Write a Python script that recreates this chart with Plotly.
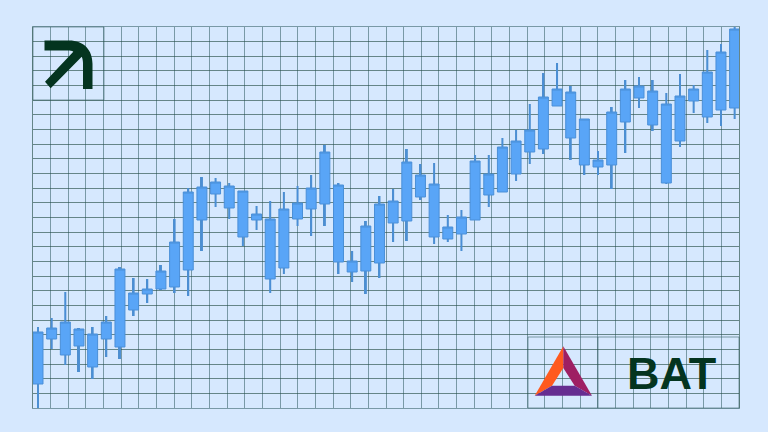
"""
BAT candlestick graphic on a square grid, with arrow and BAT logos
"""

import plotly.graph_objects as go

# candle values, left to right (no price scale in the picture, so axis units)
wick_high = [81, 90, 116, 80, 81, 92, 141, 130, 129, 143, 189, 220, 231, 230, 225, 217, 202, 207, 216, 222, 233, 263, 225, 157, 187, 212, 219, 259, 244, 245, 193, 198, 253, 253, 270, 278, 304, 335, 345, 322, 289, 257, 301, 328, 331, 328, 315, 334, 323, 358, 364, 381]
wick_low = [0, 59, 43, 36, 29, 51, 49, 92, 105, 118, 115, 112, 157, 201, 189, 162, 178, 115, 134, 182, 172, 182, 134, 126, 114, 130, 166, 167, 208, 164, 166, 157, 188, 201, 216, 227, 244, 254, 302, 248, 233, 233, 219, 255, 300, 277, 224, 261, 295, 285, 282, 289]
body_top = [76, 80, 86, 79, 74, 86, 139, 115, 119, 137, 166, 216, 221, 226, 222, 217, 194, 189, 199, 205, 220, 256, 223, 147, 182, 204, 207, 246, 233, 224, 181, 191, 247, 234, 261, 267, 278, 311, 319, 316, 289, 248, 296, 319, 322, 317, 304, 312, 319, 336, 356, 379]
body_bottom = [24, 69, 53, 62, 41, 69, 61, 98, 114, 119, 121, 138, 188, 214, 200, 171, 188, 129, 140, 189, 199, 204, 146, 136, 137, 145, 185, 187, 211, 171, 169, 174, 188, 213, 216, 234, 256, 259, 302, 270, 243, 241, 243, 286, 310, 283, 225, 267, 307, 291, 298, 300]
candle_idx = list(range(len(wick_high)))

BG = "#d6e8fe"
GRID_H = "rgba(40,80,72,0.65)"
GRID_V = "rgba(65,105,112,0.62)"
DARK_GREEN = "#04341f"
BODY = "#59a5f7"
EDGE = "#4a8fd8"
WICK = "#4f8fce"

# plot area in window pixels
LEFT, TOP, RIGHT, BOTTOM = 33, 27, 739, 408
W, H = RIGHT - LEFT, BOTTOM - TOP


def px_x(x):  # window pixel to paper coordinate
    return (x - LEFT) / W


def px_y(y):
    return (BOTTOM - y) / H


def poly(points):  # svg path in paper coordinates
    return "M" + " L".join(f"{px_x(x):.5f},{px_y(y):.5f}" for x, y in points) + " Z"


def cell(x0, y0, x1, y1):  # background panel hiding the grid under a logo
    return dict(
        type="rect", xref="paper", yref="paper", layer="between",
        x0=px_x(x0), x1=px_x(x1), y0=px_y(y1), y1=px_y(y0),
        fillcolor=BG, line=dict(color=GRID_V, width=1),
    )


def logo(points, color):
    return dict(
        type="path", xref="paper", yref="paper", path=poly(points),
        fillcolor=color, line=dict(width=0), layer="above",
    )


arrow_path = (
    f"M{px_x(44.5):.5f},{px_y(40.5):.5f} L{px_x(69):.5f},{px_y(40.5):.5f} "
    f"C{px_x(84):.5f},{px_y(40.5):.5f} {px_x(92.5):.5f},{px_y(50):.5f} {px_x(92.5):.5f},{px_y(64):.5f} "
    f"L{px_x(92.5):.5f},{px_y(89):.5f} L{px_x(83):.5f},{px_y(89):.5f} L{px_x(83):.5f},{px_y(63):.5f} "
    f"C{px_x(83):.5f},{px_y(61):.5f} {px_x(82.5):.5f},{px_y(58):.5f} {px_x(81.7):.5f},{px_y(56.7):.5f} "
    f"L{px_x(50.7):.5f},{px_y(88.3):.5f} L{px_x(45):.5f},{px_y(81.7):.5f} L{px_x(73.3):.5f},{px_y(51.7):.5f} "
    f"C{px_x(72):.5f},{px_y(50.7):.5f} {px_x(70):.5f},{px_y(50.5):.5f} {px_x(68):.5f},{px_y(50.5):.5f} "
    f"L{px_x(44.5):.5f},{px_y(50.5):.5f} Z"
)

shapes = [
    cell(33, 27, 104, 100),
    cell(528, 337, 598, 408),
    cell(598, 337, 739, 408),
    dict(type="path", xref="paper", yref="paper", path=arrow_path,
         fillcolor=DARK_GREEN, line=dict(width=0), layer="above"),
    # BAT triangle
    logo([(563.3, 346.3), (534.7, 395.7), (552, 385.7), (563.3, 368)], "#ff5a1f"),
    logo([(563.3, 346.3), (592, 395.7), (574.7, 385.7), (563.3, 368)], "#9e1f63"),
    logo([(534.7, 395.7), (592, 395.7), (574.7, 385.7), (552, 385.7)], "#662d91"),
]

fig = go.Figure()

# wicks, 2px wide
fig.add_trace(
    go.Bar(
        x=candle_idx,
        base=wick_low,
        y=[h - l for h, l in zip(wick_high, wick_low)],
        width=0.146,
        marker=dict(color=WICK, line=dict(width=0)),
        hoverinfo="skip",
    )
)

fig.add_trace(
    go.Candlestick(
        x=candle_idx,
        open=body_bottom,
        high=wick_high,
        low=wick_low,
        close=body_top,
        increasing=dict(fillcolor=BODY, line=dict(color=EDGE, width=1)),
        decreasing=dict(fillcolor=BODY, line=dict(color=EDGE, width=1)),
        whiskerwidth=0,
    )
)

axis_style = dict(
    showgrid=True,
    gridwidth=1,
    zeroline=False,
    showline=True,
    linewidth=1,
    mirror=True,
    showticklabels=False,
    ticks="",
)

fig.update_layout(
    width=768,
    height=432,
    margin=dict(l=LEFT, r=768 - RIGHT, t=TOP, b=432 - BOTTOM),
    paper_bgcolor=BG,
    plot_bgcolor=BG,
    showlegend=False,
    boxgap=0.27,
    boxgroupgap=0,
    xaxis=dict(
        range=[-0.366, 51.32],
        tick0=-0.366,
        dtick=1.2922,
        gridcolor=GRID_V,
        linecolor=GRID_V,
        rangeslider=dict(visible=False),
        **axis_style,
    ),
    yaxis=dict(
        range=[0, 381],
        tick0=0,
        dtick=381 / 26,
        gridcolor=GRID_H,
        linecolor=GRID_H,
        **axis_style,
    ),
    shapes=shapes,
    annotations=[
        dict(
            text="<b>BAT</b>",
            xref="paper",
            yref="paper",
            x=px_x(671.5),
            y=px_y(373.5),
            xanchor="center",
            yanchor="middle",
            showarrow=False,
            font=dict(family="Liberation Sans", size=45, color=DARK_GREEN),
        )
    ],
)

# page margin off so the figure fills the 768x432 window
fig.write_html(
    "out.html",
    config=dict(displayModeBar=False),
    post_script="document.body.style.margin='0';document.body.style.overflow='hidden';",
)
